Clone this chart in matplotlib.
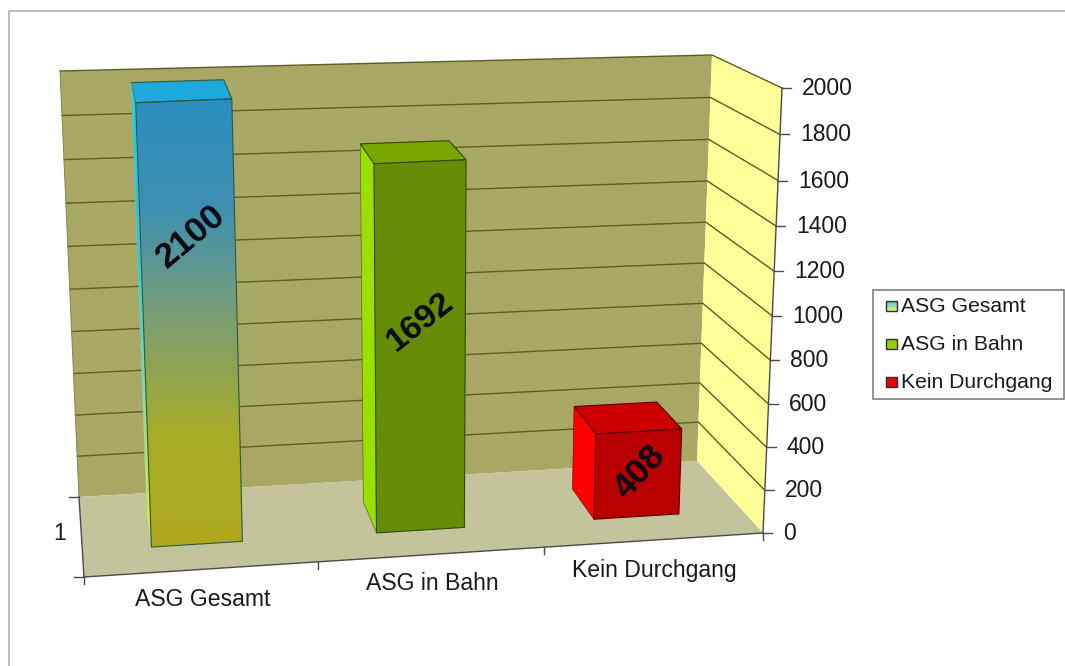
import numpy as np
import matplotlib
matplotlib.use("Agg")
import matplotlib.pyplot as plt
from matplotlib.colors import LinearSegmentedColormap
from matplotlib.patches import Polygon, Rectangle

plt.rcParams['font.family'] = ['Liberation Sans', 'DejaVu Sans']

# Data
categories = ["ASG Gesamt", "ASG in Bahn", "Kein Durchgang"]
values = [2100, 1692, 408]
value_ticks = [0, 200, 400, 600, 800, 1000, 1200, 1400, 1600, 1800, 2000]
series_tick = "1"
axis_max = 2000

# Box of the 3D plot: screen position of its corners, [x side][value side][depth side]
BOX = np.array([
    [[(84, 577), (79, 497)], [(64, 122), (60, 71)]],
    [[(763, 533), (697, 461)], [(782, 88), (712, 55)]],
], dtype=float)
PERSP_X, PERSP_V = 0.05, -0.05
DEPTH_FRONT, DEPTH_BACK = 0.32, 0.73
BAR_SHARE = 0.4


def warp(t, a):
    return t / (1 + a * (t - 1))


def project(t, value, depth):
    """Category fraction, value and depth fraction to screen position."""
    u = warp(t, PERSP_X)
    w = warp(value / axis_max, PERSP_V)
    p = np.zeros(2)
    for i, fi in enumerate((1 - u, u)):
        for j, fj in enumerate((1 - w, w)):
            for k, fk in enumerate((1 - depth, depth)):
                p += fi * fj * fk * BOX[i, j, k]
    return p


fig = plt.figure(figsize=(10.65, 6.66), dpi=100)
ax = fig.add_axes([0, 0, 1, 1])
ax.set_xlim(0, 1065)
ax.set_ylim(666, 0)
ax.axis("off")


def face(points, color, edge=None, lw=0.8, z=2):
    patch = Polygon(points, closed=True, facecolor=color,
                    edgecolor=edge if edge else color, linewidth=lw if edge else 0, zorder=z)
    ax.add_patch(patch)
    return patch


def gradient_face(points, stops, edge, lw=0.8, z=3):
    patch = Polygon(points, closed=True, facecolor="none", edgecolor=edge, linewidth=lw, zorder=z + 0.1)
    ax.add_patch(patch)
    arr = np.array(points)
    cmap = LinearSegmentedColormap.from_list("face", stops)
    im = ax.imshow(np.linspace(0, 1, 256)[:, None], cmap=cmap, aspect="auto", zorder=z,
                   extent=(arr[:, 0].min(), arr[:, 0].max(), arr[:, 1].max(), arr[:, 1].min()))
    im.set_clip_path(patch)


# Outer chart frame
ax.plot([9, 9, 1065], [666, 11, 11], color="#bcbcbc", lw=1.4, zorder=1)

# Walls and floor
face([project(0, 0, 1), project(1, 0, 1), project(1, axis_max, 1), project(0, axis_max, 1)], "#a8a864")
face([project(1, 0, 1), project(1, 0, 0), project(1, axis_max, 0), project(1, axis_max, 1)], "#ffff99")
face([project(0, 0, 0), project(1, 0, 0), project(1, 0, 1), project(0, 0, 1)], "#c4c49c")

# Gridlines along back and side walls
grid = "#5c5c24"
for v in value_ticks[1:]:
    pts = np.array([project(0, v, 1), project(1, v, 1), project(1, v, 0)])
    ax.plot(pts[:, 0], pts[:, 1], color=grid, lw=1.0, zorder=2.5)
left = np.array([project(0, 0, 1), project(0, axis_max, 1)])
ax.plot(left[:, 0], left[:, 1], color="#85854c", lw=0.7, zorder=2.5)

# Axis lines and ticks
axis_color = "#4a4a4a"
pts = np.array([project(1, 0, 0), project(1, axis_max, 0)])
ax.plot(pts[:, 0], pts[:, 1], color=axis_color, lw=1.0, zorder=2.6)
pts = np.array([project(0, 0, 0), project(1, 0, 0)])
ax.plot(pts[:, 0], pts[:, 1], color=axis_color, lw=1.0, zorder=2.6)
pts = np.array([project(0, 0, 1), project(0, 0, 0)])
ax.plot(pts[:, 0], pts[:, 1], color=axis_color, lw=1.0, zorder=2.6)

for v in value_ticks:
    x, y = project(1, v, 0)
    ax.plot([x, x + 9], [y, y], color=axis_color, lw=1.0, zorder=2.6)
    ax.text(x + 20, y + 0.5, str(v), ha="left", va="center", fontsize=16.5, color="#1a1a1a")

for i in range(len(categories) + 1):
    x, y = project(i / len(categories), 0, 0)
    ax.plot([x, x], [y, y + 7], color=axis_color, lw=1.0, zorder=2.6)
for d in (0, 1):
    x, y = project(0, 0, d)
    ax.plot([x - 10, x], [y, y], color=axis_color, lw=1.0, zorder=2.6)

cat_label_pos = [(203, 600), (432, 583), (654, 570)]
for label, (x, y) in zip(categories, cat_label_pos):
    ax.text(x, y, label, ha="center", va="center", fontsize=16.6, color="#1a1a1a")
ax.text(60, 534, series_tick, ha="center", va="center", fontsize=16.5, color="#1a1a1a")

# Bars
bar_styles = [
    dict(front=["#2a8ec0", "#3f90b0", "#7f9f70", "#a8ac28", "#b0a81e"],
         side=["#25c8f2", "#28c4e8", "#8cd8a0", "#f0f020"], top="#1ea8dc",
         edge="#2c5a40", side_edge="#8cc8a0"),
    dict(front="#668c08", side="#99e000", top="#7aa600", edge="#33480a", side_edge="#55700a"),
    dict(front="#b80000", side="#ff0000", top="#cc0000", edge="#5a0000", side_edge="#8a0000"),
]
n = len(categories)
for i, (value, st) in enumerate(zip(values, bar_styles)):
    # Bars longer than the value axis stop at its maximum
    h = min(value, axis_max)
    t0 = (i + 0.5 - BAR_SHARE / 2) / n
    t1 = (i + 0.5 + BAR_SHARE / 2) / n
    fl, fr = project(t0, 0, DEPTH_FRONT), project(t1, 0, DEPTH_FRONT)
    bl = project(t0, 0, DEPTH_BACK)
    ftl, ftr = project(t0, h, DEPTH_FRONT), project(t1, h, DEPTH_FRONT)
    btl, btr = project(t0, h, DEPTH_BACK), project(t1, h, DEPTH_BACK)
    front_pts = [ftl, ftr, fr, fl]
    side_pts = [btl, ftl, fl, bl]
    if isinstance(st["front"], list):
        gradient_face(side_pts, st["side"], st["side_edge"], lw=0.3)
        gradient_face(front_pts, st["front"], st["edge"], lw=0.8)
    else:
        face(side_pts, st["side"], st["side_edge"], lw=0.5, z=3)
        face(front_pts, st["front"], st["edge"], z=3)
    face([btl, btr, ftr, ftl], st["top"], st["edge"], z=3)

# Value labels
label_pos = [(191, 236, 40, 25.5), (420, 322, 38, 24.5), (640, 472, 47, 25.5)]
for value, (x, y, rot, size) in zip(values, label_pos):
    ax.text(x, y, str(value), ha="center", va="center", rotation=rot, rotation_mode="anchor",
            fontsize=size, fontweight="bold", color="#0a0a14", zorder=6)

# Legend
ax.add_patch(Rectangle((873, 290), 191, 109, facecolor="white", edgecolor="#808080", lw=1.2, zorder=4))
legend_y = [306, 344, 382]
for j, (name, y) in enumerate(zip(categories, legend_y)):
    if j == 0:
        pts = [(886, y - 5), (897, y - 5), (897, y + 5), (886, y + 5)]
        gradient_face(pts, ["#40c8f0", "#f0f070"], "#303030", lw=1.0, z=5)
    else:
        color = ["#99cc00", "#ee0000"][j - 1]
        ax.add_patch(Rectangle((886, y - 5), 11, 10, facecolor=color, edgecolor="#303030", lw=1.0, zorder=5))
    ax.text(901, y, name, ha="left", va="center", fontsize=15.2, color="#1a1a1a", zorder=5)

ax.set_xlim(0, 1065)
ax.set_ylim(666, 0)
fig.savefig("out.png", dpi=100, facecolor="white")
